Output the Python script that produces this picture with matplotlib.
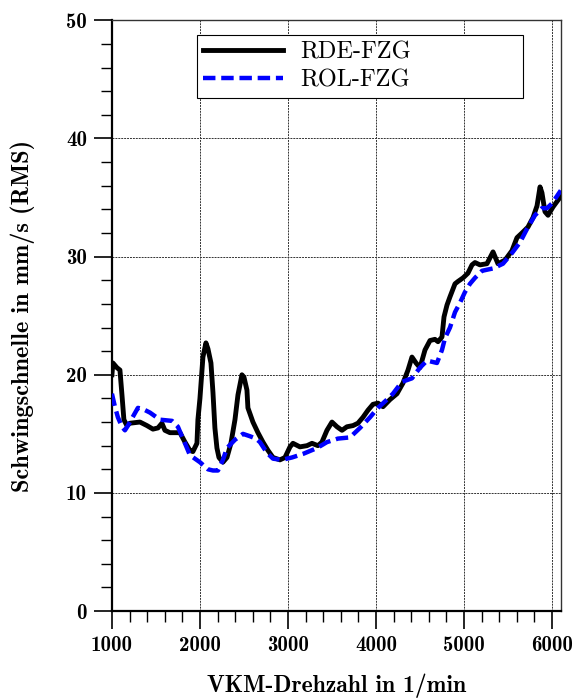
import matplotlib
matplotlib.use('Agg')
import matplotlib.pyplot as plt
from matplotlib.ticker import MultipleLocator

# Drehzahl [1/min] und Schwingschnelle [mm/s RMS]
rde_rpm = [1000, 1011, 1057, 1091, 1114, 1136, 1170, 1205, 1318, 1398, 1466, 1523, 1568,
           1602, 1659, 1716, 1773, 1830, 1886, 1920, 1966, 1977, 2000, 2034, 2068, 2091,
           2125, 2148, 2170, 2193, 2216, 2261, 2307, 2352, 2398, 2432, 2477, 2500, 2534,
           2545, 2602, 2659, 2716, 2773, 2830, 2909, 2966, 3023, 3057, 3136, 3216, 3273,
           3341, 3386, 3443, 3500, 3557, 3614, 3670, 3739, 3795, 3852, 3909, 3966, 4023,
           4080, 4159, 4239, 4307, 4364, 4409, 4455, 4500, 4557, 4614, 4670, 4705, 4750,
           4773, 4807, 4841, 4898, 4932, 4989, 5045, 5091, 5125, 5182, 5261, 5330, 5386,
           5466, 5545, 5602, 5659, 5727, 5784, 5830, 5864, 5886, 5920, 5955, 6011, 6100]
rde_val = [20.0, 21.0, 20.6, 20.4, 18.3, 16.2, 15.7, 15.9, 16.0, 15.7, 15.4, 15.5, 15.9,
           15.3, 15.1, 15.1, 15.1, 14.3, 13.6, 13.5, 14.2, 16.2, 18.0, 21.5, 22.7, 22.2,
           21.0, 18.5, 15.5, 13.8, 13.0, 12.6, 13.0, 14.2, 16.2, 18.3, 20.0, 19.8, 18.7,
           17.2, 16.0, 15.1, 14.3, 13.6, 13.0, 12.8, 13.0, 13.9, 14.2, 13.9, 14.0, 14.2,
           14.0, 14.3, 15.3, 16.0, 15.6, 15.3, 15.6, 15.7, 15.9, 16.4, 17.0, 17.5, 17.6,
           17.3, 17.9, 18.4, 19.3, 20.4, 21.5, 21.0, 20.6, 22.1, 22.9, 23.0, 22.8, 23.2,
           24.9, 25.9, 26.6, 27.7, 27.9, 28.2, 28.6, 29.3, 29.5, 29.3, 29.4, 30.4, 29.4,
           29.7, 30.5, 31.6, 32.0, 32.5, 33.3, 34.3, 35.9, 35.4, 33.8, 33.5, 34.2, 35.1]
rol_rpm = [1000, 1034, 1068, 1114, 1148, 1182, 1227, 1295, 1352, 1432, 1545, 1682, 1750,
           1795, 1830, 1886, 2000, 2091, 2148, 2205, 2261, 2307, 2398, 2489, 2568, 2636,
           2682, 2761, 2830, 2932, 3045, 3170, 3330, 3443, 3568, 3705, 3818, 3932, 4023,
           4125, 4193, 4295, 4409, 4500, 4580, 4693, 4750, 4784, 4841, 4898, 4955, 5011,
           5068, 5125, 5205, 5330, 5443, 5545, 5636, 5727, 5807, 5886, 5943, 6000, 6100]
rol_val = [18.4, 17.3, 16.4, 15.6, 15.3, 15.7, 16.3, 17.2, 17.1, 16.8, 16.2, 16.1, 15.6,
           14.8, 14.2, 13.2, 12.6, 12.0, 11.9, 11.9, 12.8, 13.8, 14.5, 15.0, 14.8, 14.6,
           14.3, 13.4, 12.9, 12.8, 13.0, 13.3, 13.8, 14.3, 14.6, 14.7, 15.5, 16.4, 17.2,
           17.9, 18.4, 19.4, 19.7, 20.6, 21.2, 21.0, 22.1, 23.1, 24.0, 25.3, 26.1, 27.0,
           27.7, 28.2, 28.8, 29.0, 29.4, 30.3, 31.2, 32.5, 33.5, 34.1, 34.1, 34.5, 35.6]

plt.rcParams['font.family'] = 'cmb10'
plt.rcParams['axes.unicode_minus'] = False

fig = plt.figure(figsize=(5.74, 7.0), dpi=100)
ax = fig.add_axes([0.195, 0.127, 0.782, 0.844])

ax.plot(rde_rpm, rde_val, color='black', lw=3.5, label='RDE-FZG', zorder=3,
        solid_joinstyle='round')
ax.plot(rol_rpm, rol_val, color='blue', lw=3.2, dashes=(2.8, 1.3), label='ROL-FZG',
        zorder=4, dash_capstyle='butt')

ax.set_xlim(1000, 6100)
ax.set_ylim(0, 50)
ax.xaxis.set_major_locator(MultipleLocator(1000))
ax.xaxis.set_minor_locator(MultipleLocator(200))
ax.yaxis.set_major_locator(MultipleLocator(10))
ax.yaxis.set_minor_locator(MultipleLocator(2))
ax.tick_params(which='major', direction='out', length=13, width=1.2, labelsize=15, pad=5)
ax.tick_params(which='minor', direction='out', length=8, width=1.0)
ax.grid(True, which='major', color='#333333', lw=0.7, ls=(0, (2, 1)))

for side in ['left', 'bottom']:
    ax.spines[side].set_linewidth(1.6)
for side in ['top', 'right']:
    ax.spines[side].set_linewidth(1.0)
    ax.spines[side].set_color('#333333')

ax.set_xlabel('VKM-Drehzahl in 1/min', fontsize=17, labelpad=13)
ax.set_ylabel('Schwingschnelle in mm/s (RMS)', fontsize=17.5, labelpad=22)

leg = ax.legend(loc='upper left', bbox_to_anchor=(0.189, 0.868, 0.726, 0.107), mode='expand',
                prop={'family': 'cmr10', 'size': 17.5}, frameon=True, fancybox=False,
                edgecolor='black', framealpha=1, handlelength=3.3, handletextpad=0.7,
                borderaxespad=0, labelspacing=0.25, borderpad=0.25)
leg.get_frame().set_linewidth(0.8)

fig.savefig('out.png', dpi=100)
